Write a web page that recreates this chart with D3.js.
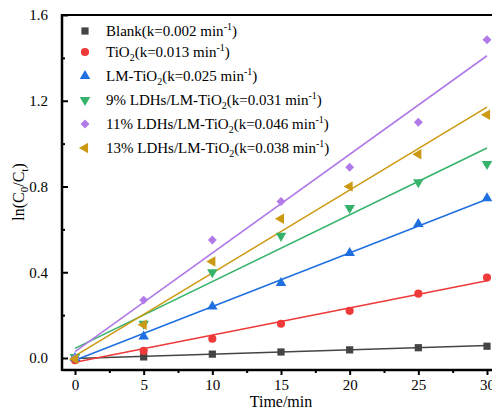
<!DOCTYPE html>
<html><head><meta charset="utf-8">
<script src="https://cdn.jsdelivr.net/npm/d3@7"></script>
<style>body{margin:0;background:#fff}svg{display:block}</style>
</head><body><svg id="c" width="492" height="410"></svg>
<script>
const times = [0,5,10,15,20,25,30];
const seriesNames = ["Blank","TiO2","LM-TiO2","9% LDHs/LM-TiO2","11% LDHs/LM-TiO2","13% LDHs/LM-TiO2"];
const kValues = ["0.002","0.013","0.025","0.031","0.046","0.038"];
const blank = [0.0,0.005,0.018,0.028,0.038,0.048,0.055];
const tio2 = [-0.01,0.033,0.09,0.16,0.22,0.30,0.375];
const lmTio2 = [0.0,0.10,0.24,0.35,0.49,0.625,0.745];
const ldh9 = [0.005,0.16,0.40,0.57,0.70,0.82,0.905];
const ldh11 = [0.0,0.27,0.55,0.73,0.89,1.10,1.485];
const ldh13 = [-0.005,0.155,0.45,0.65,0.80,0.95,1.135];
const fitStart = [-0.002,-0.02,-0.01,0.045,0.03,0.01];
const fitEnd = [0.058,0.36,0.74,0.98,1.41,1.17];
const xTicks = [0,5,10,15,20,25,30];
const yTicks = [0.0,0.4,0.8,1.2,1.6];
const colors = ["#444444","#ef3a3a","#1f6fe0","#36b36b","#b07ae8","#cc9a12"];
const shapes = ["square","circle","up","down","diamond","left"];
const values = [blank,tio2,lmTio2,ldh9,ldh11,ldh13];

const FONT = "Liberation Serif";
const svg = d3.select("#c");
const x = d3.scaleLinear().domain([0,30]).range([75,487]);
const y = d3.scaleLinear().domain([0,1.6]).range([358,15]);
const pLeft = 62, pBottom = 370, pTop = 15, pRight = 500;

svg.append("line").attr("x1",pLeft).attr("x2",pRight).attr("y1",pTop).attr("y2",pTop).attr("stroke","#000").attr("stroke-width",2);

const xAxis = svg.append("g").attr("transform",`translate(0,${pBottom})`)
  .call(d3.axisBottom(x).tickValues(xTicks).tickFormat(d3.format("d")).tickSize(5).tickPadding(4));
xAxis.select(".domain").remove();
svg.append("g").attr("transform",`translate(0,${pBottom})`)
  .call(d3.axisBottom(x).tickValues(d3.range(2.5,31,5)).tickFormat("").tickSize(3))
  .select(".domain").remove();
svg.append("line").attr("x1",pLeft).attr("x2",pRight).attr("y1",pBottom).attr("y2",pBottom).attr("stroke","#000").attr("stroke-width",2.5);

const yAxis = svg.append("g").attr("transform",`translate(${pLeft},0)`)
  .call(d3.axisLeft(y).tickValues(yTicks).tickFormat(d3.format(".1f")).tickSize(-6).tickPadding(14));
yAxis.select(".domain").remove();
svg.append("g").attr("transform",`translate(${pLeft},0)`)
  .call(d3.axisLeft(y).tickValues([0.2,0.6,1.0,1.4]).tickFormat("").tickSize(-3))
  .select(".domain").remove();
svg.append("line").attr("x1",pLeft).attr("x2",pLeft).attr("y1",pTop-1).attr("y2",pBottom+1).attr("stroke","#000").attr("stroke-width",2.5);

svg.selectAll(".tick line").attr("stroke","#000").attr("stroke-width",2);
svg.selectAll(".tick text").attr("font-size",15).attr("fill","#000").style("font-family",FONT);

svg.append("text").attr("x",281).attr("y",407).attr("text-anchor","middle").attr("font-size",16).style("font-family",FONT).text("Time/min");
const yl = svg.append("text").attr("transform","translate(24,192) rotate(-90)").attr("text-anchor","middle").attr("font-size",16).style("font-family",FONT);
yl.append("tspan").text("ln(C");
yl.append("tspan").attr("font-size",11).attr("dy",4).text("0");
yl.append("tspan").attr("dy",-4).text("/C");
yl.append("tspan").attr("font-size",11).attr("dy",4).text("t");
yl.append("tspan").attr("dy",-4).text(")");

const sym = {
  square: d3.symbol().type(d3.symbolSquare).size(52),
  circle: d3.symbol().type(d3.symbolCircle).size(52),
  diamond: d3.symbol().type(d3.symbolSquare).size(40),
  up: d3.symbol().type(d3.symbolTriangle).size(48),
};
function drawMarker(g, shape, cx, cy, color){
  let p, rot = 0;
  if(shape==="square") p = sym.square();
  else if(shape==="circle") p = sym.circle();
  else if(shape==="diamond") { p = sym.diamond(); rot = 45; }
  else { p = sym.up(); rot = shape==="up"?0:(shape==="down"?180:-90); }
  g.append("path").attr("d",p).attr("fill",color)
   .attr("transform",`translate(${cx},${cy}) rotate(${rot})`);
}

const plot = svg.append("g");
values.forEach((vals,i)=>{
  plot.append("line").attr("x1",x(0)).attr("y1",y(fitStart[i])).attr("x2",x(30)).attr("y2",y(fitEnd[i]))
    .attr("stroke",colors[i]).attr("stroke-width",1.6);
});
values.forEach((vals,i)=>{
  vals.forEach((v,j)=>drawMarker(plot,shapes[i],x(times[j]),y(v),colors[i]));
});

const rows = [31,52,76,100,124,148];
seriesNames.forEach((n,i)=>{
  drawMarker(svg,shapes[i],85,rows[i],colors[i]);
  const t = svg.append("text").attr("x",106).attr("y",rows[i]+5).attr("font-size",15).attr("fill","#000").style("font-family",FONT);
  const m = n.match(/^(.*)TiO2$/);
  if(m){
    t.append("tspan").text(m[1]+"TiO");
    t.append("tspan").attr("font-size",10).attr("dy",4).text("2");
    t.append("tspan").attr("dy",-4).text(`(k=${kValues[i]} min`);
  } else {
    t.append("tspan").text(`${n}(k=${kValues[i]} min`);
  }
  t.append("tspan").attr("font-size",10).attr("dy",-6).text("-1");
  t.append("tspan").attr("dy",6).text(")");
});
</script></body></html>
